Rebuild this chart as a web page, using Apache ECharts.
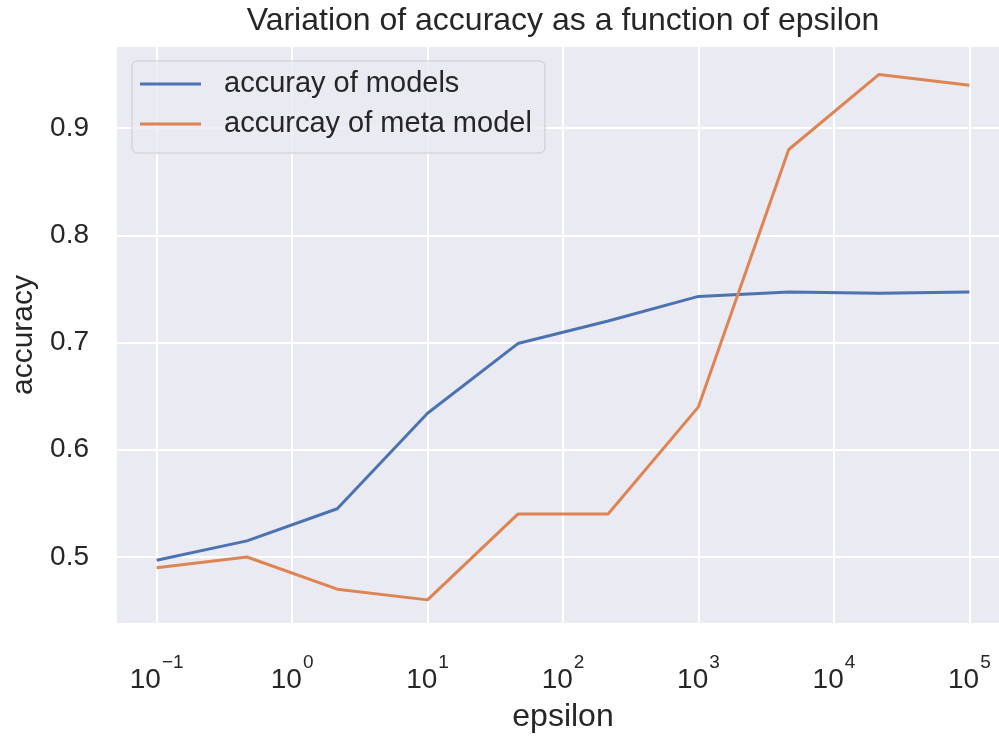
<!DOCTYPE html>
<html>
<head>
<meta charset="utf-8">
<script src="https://cdn.jsdelivr.net/npm/echarts@6/dist/echarts.min.js"></script>
<style>
html,body{margin:0;padding:0;background:#fff;}
#main{width:999px;height:736px;}
</style>
</head>
<body>
<div id="main"></div>
<script>
// ---- data ----
const epsilon = [0.1, 0.4642, 2.154, 10, 46.42, 215.4, 1000, 4642, 21544, 100000];
const accModels = [0.497, 0.515, 0.545, 0.634, 0.699, 0.720, 0.743, 0.747, 0.746, 0.747];
const accMeta = [0.49, 0.50, 0.47, 0.46, 0.54, 0.54, 0.64, 0.88, 0.95, 0.94];
const seriesNames = ['accuray of models', 'accurcay of meta model'];
const titleText = 'Variation of accuracy as a function of epsilon';
const xName = 'epsilon';
const yName = 'accuracy';

const TXT = '#262626';
const FONT = 'Liberation Sans, Arial, sans-serif';

const chart = echarts.init(document.getElementById('main'), null, {renderer: 'canvas'});

function pairs(xs, ys) { return xs.map((x, i) => [x, ys[i]]); }

const option = {
  backgroundColor: '#ffffff',
  animation: false,
  textStyle: {fontFamily: FONT, color: TXT},
  title: {
    text: titleText,
    left: 558,
    top: 0,
    textAlign: 'center',
    textStyle: {fontFamily: FONT, fontSize: 32, fontWeight: 'normal', color: TXT}
  },
  legend: {
    orient: 'vertical',
    left: 132,
    top: 61,
    padding: [8, 13, 14, 8],
    itemGap: 10,
    itemWidth: 61,
    itemHeight: 3,
    icon: 'rect',
    backgroundColor: 'rgba(234,234,242,0.8)',
    borderColor: '#cccccc',
    borderWidth: 1,
    borderRadius: 5,
    data: seriesNames,
    textStyle: {fontFamily: FONT, fontSize: 29, color: TXT, lineHeight: 30, padding: [0, 0, 0, 18]}
  },
  grid: {
    left: 116, top: 46, right: -11, bottom: 112,
    show: true, backgroundColor: '#EAEAF2', borderWidth: 0,
    containLabel: false, outerBoundsMode: 'none'
  },
  xAxis: {
    type: 'log',
    logBase: 10,
    min: Math.pow(10, -1.3),
    max: Math.pow(10, 5.3),
    name: xName,
    nameLocation: 'middle',
    nameGap: 77,
    nameTextStyle: {fontFamily: FONT, fontSize: 32, color: TXT},
    axisLine: {show: false},
    axisTick: {show: false},
    splitLine: {show: true, lineStyle: {color: '#ffffff', width: 2}},
    axisLabel: {
      showMinLabel: false,
      showMaxLabel: false,
      margin: 29,
      formatter: function (v) {
        const e = Math.round(Math.log10(v));
        const es = e < 0 ? '\u2212' + Math.abs(e) : String(e);
        return '{b|10}{s|' + es + '}';
      },
      rich: {
        b: {fontFamily: FONT, fontSize: 28, lineHeight: 41, color: TXT, verticalAlign: 'bottom'},
        s: {fontFamily: FONT, fontSize: 19, lineHeight: 19, color: TXT, verticalAlign: 'top', padding: [0, 0, 0, 1]}
      }
    }
  },
  yAxis: {
    type: 'value',
    min: 0.4375,
    max: 0.9765,
    name: yName,
    nameLocation: 'middle',
    nameGap: 68,
    nameRotate: 90,
    nameTextStyle: {fontFamily: FONT, fontSize: 30, color: TXT},
    axisLine: {show: false},
    axisTick: {show: false},
    splitLine: {show: true, lineStyle: {color: '#ffffff', width: 2}},
    axisLabel: {
      showMinLabel: false,
      showMaxLabel: false,
      margin: 27,
      fontFamily: FONT, fontSize: 28, color: TXT,
      formatter: function (v) { return v.toFixed(1); }
    }
  },
  series: [
    {
      name: seriesNames[0], type: 'line', data: pairs(epsilon, accModels),
      symbol: 'none', showSymbol: false,
      lineStyle: {color: '#4C72B0', width: 3}, itemStyle: {color: '#4C72B0'}, z: 3
    },
    {
      name: seriesNames[1], type: 'line', data: pairs(epsilon, accMeta),
      symbol: 'none', showSymbol: false,
      lineStyle: {color: '#DD8452', width: 3}, itemStyle: {color: '#DD8452'}, z: 3
    }
  ]
};
chart.setOption(option);
</script>
</body>
</html>
